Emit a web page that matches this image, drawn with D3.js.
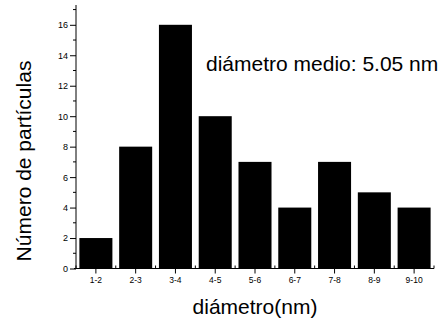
<!DOCTYPE html>
<html><head><meta charset="utf-8">
<script src="https://cdn.jsdelivr.net/npm/d3@7"></script>
<style>body{margin:0;background:#fff}svg{display:block}text{font-family:"Liberation Sans",Arial,sans-serif;fill:#000}</style>
</head><body>
<script>
const categories = ["1-2","2-3","3-4","4-5","5-6","6-7","7-8","8-9","9-10"];
const counts = [2,8,16,10,7,4,7,5,4];
const yTicks = [0,2,4,6,8,10,12,14,16];
const yMinorTicks = [1,3,5,7,9,11,13,15,17];
const xTitle = "diámetro(nm)";
const yTitle = "Número de partículas";
const note = "diámetro medio: 5.05 nm";

(function () {
const W = 446, H = 325;
const mLeft = 76, mRight = 434, mTop = 5, mBottom = 268.5;
const svg = d3.select("body").append("svg").attr("width", W).attr("height", H);

const x = d3.scaleBand().domain(categories).range([mLeft, mRight]).paddingInner(0.17).paddingOuter(0.085);
const y = d3.scaleLinear().domain([0, 17.3]).range([mBottom, mTop]);

svg.append("g").selectAll("rect").data(counts).join("rect")
  .attr("x", (d, i) => x(categories[i]))
  .attr("y", d => y(d))
  .attr("width", x.bandwidth())
  .attr("height", d => y(0) - y(d))
  .attr("fill", "#000");

// y axis
const yAxis = svg.append("g").attr("transform", `translate(${mLeft},0)`)
  .call(d3.axisLeft(y).tickValues(yTicks).tickSize(6).tickPadding(2).tickSizeOuter(0));
yAxis.select(".domain").remove();
yAxis.selectAll("text").attr("font-size", 9).style("font-family", '"Liberation Sans",Arial,sans-serif');
yAxis.selectAll("line").attr("stroke", "#000");
svg.append("g").selectAll("line").data(yMinorTicks).join("line")
  .attr("x1", mLeft - 3).attr("x2", mLeft).attr("y1", d => y(d)).attr("y2", d => y(d)).attr("stroke", "#000");
svg.append("line").attr("x1", mLeft).attr("x2", mLeft).attr("y1", mTop).attr("y2", mBottom).attr("stroke", "#000");

// x axis
const xAxis = svg.append("g").attr("transform", `translate(0,${mBottom})`)
  .call(d3.axisBottom(x).tickSize(5).tickPadding(3).tickSizeOuter(0));
xAxis.select(".domain").remove();
xAxis.selectAll("text").attr("font-size", 8.5).style("font-family", '"Liberation Sans",Arial,sans-serif');
xAxis.selectAll("line").attr("stroke", "#000");
const bounds = d3.range(categories.length + 1).map(i => mLeft + i * x.step());
svg.append("g").selectAll("line").data(bounds).join("line")
  .attr("x1", d => d).attr("x2", d => d).attr("y1", mBottom).attr("y2", mBottom - 3).attr("stroke", "#000");
svg.append("line").attr("x1", mLeft - 2).attr("x2", mRight).attr("y1", mBottom).attr("y2", mBottom).attr("stroke", "#000");

svg.append("text").attr("x", (mLeft + mRight) / 2).attr("y", 314).attr("text-anchor", "middle")
  .attr("font-size", 21).text(xTitle);
svg.append("text").attr("transform", "translate(31,161) rotate(-90)").attr("text-anchor", "middle")
  .attr("font-size", 21).text(yTitle);
svg.append("text").attr("x", 206).attr("y", 71).attr("font-size", 21).text(note);
})();
</script>
</body></html>
